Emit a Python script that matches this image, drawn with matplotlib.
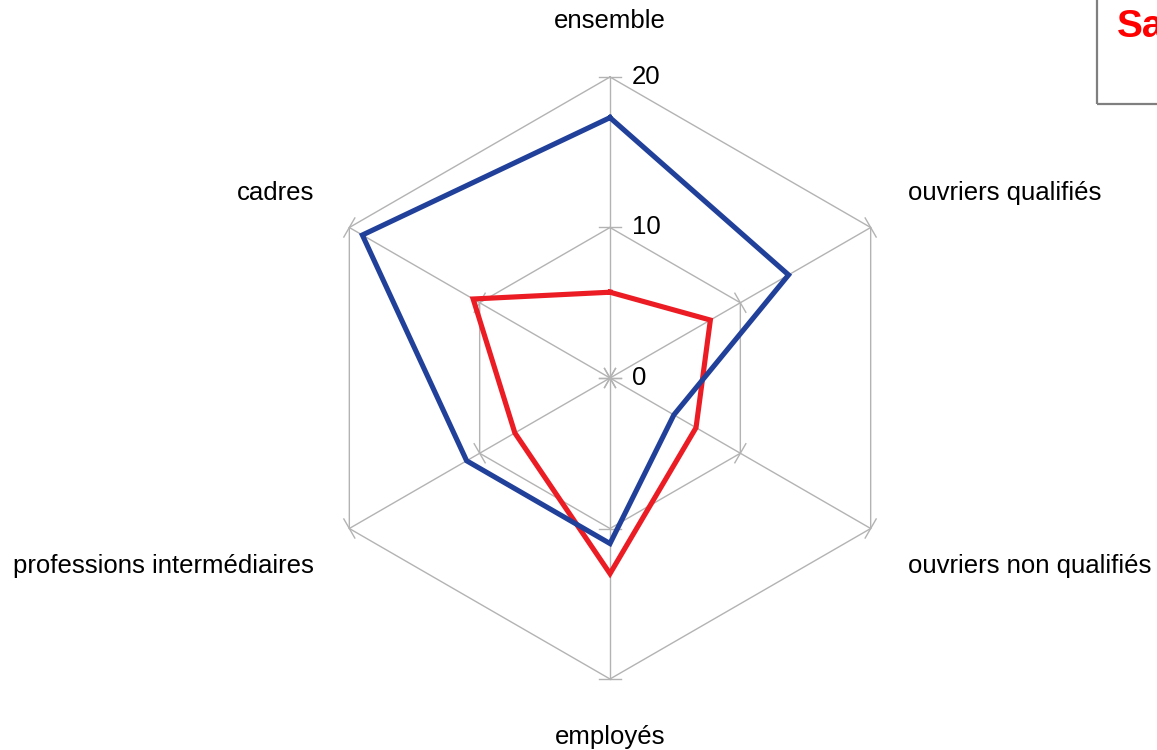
import numpy as np
import matplotlib
matplotlib.use("Agg")
import matplotlib.pyplot as plt
from matplotlib.patches import Rectangle

categories = ["ensemble", "ouvriers qualifiés", "ouvriers non qualifiés",
              "employés", "professions intermédiaires", "cadres"]
series_blue = [17.3, 13.7, 4.9, 11.0, 11.0, 19.0]
series_red = [5.7, 7.7, 6.6, 13.0, 7.3, 10.5]
ring_values = [0, 10, 20]
ring_labels = ["0", "10", "20"]
title_text = "Sa"

plt.rcParams['font.family'] = ['Liberation Sans', 'DejaVu Sans']

W, H = 1157, 750
cx, cy = 610, 378          # pixel centre
scale = 301 / 20.0         # pixels per unit

fig = plt.figure(figsize=(W / 100, H / 100), dpi=100)
ax = fig.add_axes([0, 0, 1, 1])
ax.set_xlim(-cx / scale, (W - cx) / scale)
ax.set_ylim(-(H - cy) / scale, cy / scale)
ax.axis("off")

n = len(categories)
angles = np.arange(n) * 2 * np.pi / n  # clockwise from top
ux = np.sin(angles)
uy = np.cos(angles)

grid_c = "#b3b3b3"
rmax = max(ring_values)

# spokes
for i in range(n):
    ax.plot([0, rmax * ux[i]], [0, rmax * uy[i]], color=grid_c, lw=1.0, zorder=1)

# rings (hexagons)
for rv in ring_values[1:]:
    xs = list(rv * ux) + [rv * ux[0]]
    ys = list(rv * uy) + [rv * uy[0]]
    ax.plot(xs, ys, color=grid_c, lw=1.0, zorder=1)

# tick marks perpendicular to each spoke at each ring
tl = 11 / scale
for i in range(n):
    px, py = uy[i], -ux[i]
    for rv in ring_values:
        bx, by = rv * ux[i], rv * uy[i]
        ax.plot([bx - tl * px, bx + tl * px], [by - tl * py, by + tl * py],
                color=grid_c, lw=1.0, zorder=1)

# ring labels
for rv, lab in zip(ring_values, ring_labels):
    ax.text(22 / scale, rv, lab, ha="left", va="center", fontsize=18.5,
            color="black")

# series
def draw(vals, color):
    v = np.array(vals)
    xs = list(v * ux) + [v[0] * ux[0]]
    ys = list(v * uy) + [v[0] * uy[0]]
    ax.plot(xs, ys, color=color, lw=3.7, solid_joinstyle="miter", zorder=3)

draw(series_red, "#ec1c24")
draw(series_blue, "#21409a")

# category labels
lab_pos = [
    (610, 21, "center"),
    (908, 193, "left"),
    (908, 566, "left"),
    (610, 737, "center"),
    (314, 566, "right"),
    (314, 193, "right"),
]
for (px_, py_, ha), lab in zip(lab_pos, categories):
    ax.text((px_ - cx) / scale, (cy - py_) / scale, lab, ha=ha, va="center",
            fontsize=18.5, color="black")

# legend/title box (partly off the figure, as in the reference)
x0 = (1097 - cx) / scale
y0 = (cy - 104) / scale
ax.add_patch(Rectangle((x0, y0), (1300 - 1097) / scale, 200 / scale,
                       fill=False, edgecolor="#7f7f7f", lw=1.6, zorder=4,
                       clip_on=False))
ax.text((1117 - cx) / scale, (cy - 27) / scale, title_text, ha="left",
        va="center", fontsize=28, fontweight="bold", color="#ff0000")

fig.savefig("out.png", dpi=100)
